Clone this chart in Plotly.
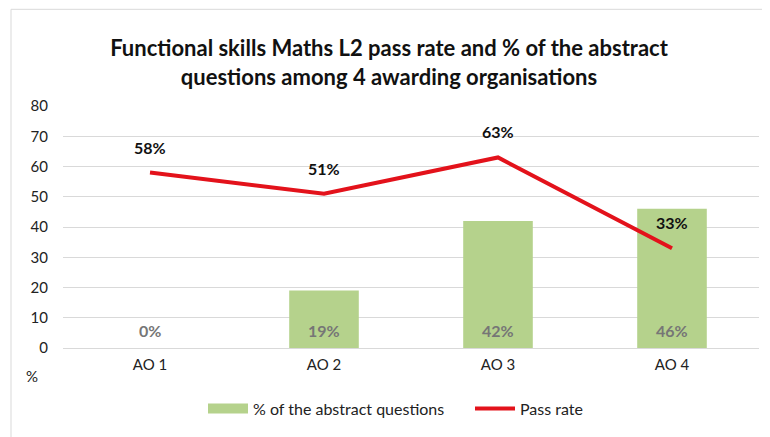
import plotly.graph_objects as go

categories = ["AO 1", "AO 2", "AO 3", "AO 4"]
abstract_pct = [0, 19, 42, 46]
pass_rate = [58, 51, 63, 33]
y_ticks = [0, 10, 20, 30, 40, 50, 60, 70, 80]

FONT = "Lato, Carlito, Calibri, sans-serif"
GREEN = "#B5D28C"
RED = "#E3121B"

# page body has an 8px margin; figure sized/offset to compensate
OFF = 8
W, H = 770 - OFF, 437 - OFF
PL, PR, PT, PB = 63, 759, 106, 350  # plot area in page pixels
PW, PH = PR - PL, PB - PT

def px(xp):
    return (xp - PL) / PW

def py(yp):
    return (PB - yp) / PH

fig = go.Figure()
fig.add_trace(go.Bar(
    x=categories, y=abstract_pct, name="% of the abstract questions",
    marker=dict(color=GREEN, line=dict(width=0)), width=0.4, showlegend=False,
))
fig.add_trace(go.Scatter(
    x=[None], y=[None], name="% of the abstract questions", mode="lines",
    line=dict(color=GREEN, width=10), hoverinfo="skip",
))
fig.add_trace(go.Scatter(
    x=categories, y=pass_rate, name="Pass rate", mode="lines",
    line=dict(color=RED, width=4),
))

annotations = []
for c, v in zip(categories, abstract_pct):
    annotations.append(dict(x=c, y=0, text=f"{v}%", showarrow=False,
                            yanchor="bottom", yshift=6,
                            font=dict(family=FONT, size=16, color="#767676", weight="bold")))
for c, v in zip(categories, pass_rate):
    annotations.append(dict(x=c, y=v, text=f"{v}%", showarrow=False,
                            yanchor="bottom", yshift=14,
                            font=dict(family=FONT, size=16, color="#111111", weight="bold")))
annotations.append(dict(xref="paper", yref="paper", x=px(32), y=py(378),
                        text="%", showarrow=False, xanchor="center", yanchor="middle",
                        font=dict(family=FONT, size=15, color="#222222")))

fig.update_layout(
    width=W, height=H,
    margin=dict(l=PL - OFF, r=W - (PR - OFF), t=PT - OFF, b=H - (PB - OFF)),
    paper_bgcolor="white", plot_bgcolor="white",
    title=dict(text="Functional skills Maths L2 pass rate and % of the abstract<br>questions among 4 awarding organisations",
               x=0.5, xanchor="center", y=(H - (56 - OFF)) / H, yanchor="middle",
               font=dict(family=FONT, size=22, color="#111111", weight="bold")),
    xaxis=dict(showgrid=False, showline=False, ticks="", ticklabelstandoff=6,
               tickfont=dict(family=FONT, size=15, color="#222222")),
    yaxis=dict(range=[0, 80], tickvals=y_ticks, showgrid=True, gridcolor="#D9D9D9",
               gridwidth=1, zeroline=True, zerolinecolor="#D9D9D9", zerolinewidth=1,
               showline=False, ticks="", ticklabelstandoff=14,
               tickfont=dict(family=FONT, size=15, color="#222222")),
    legend=dict(orientation="h", x=px(203), xanchor="left", y=py(411), yanchor="middle",
                font=dict(family=FONT, size=16, color="#222222"),
                itemwidth=40, entrywidth=212, traceorder="normal"),
    annotations=annotations,
    shapes=[dict(type="rect", xref="paper", yref="paper",
                 x0=px(11), x1=1.2, y0=-0.6, y1=py(OFF + 0.5),
                 line=dict(color="#D9D9D9", width=1), fillcolor="rgba(0,0,0,0)", layer="below")],
)

fig.write_html("out.html")
